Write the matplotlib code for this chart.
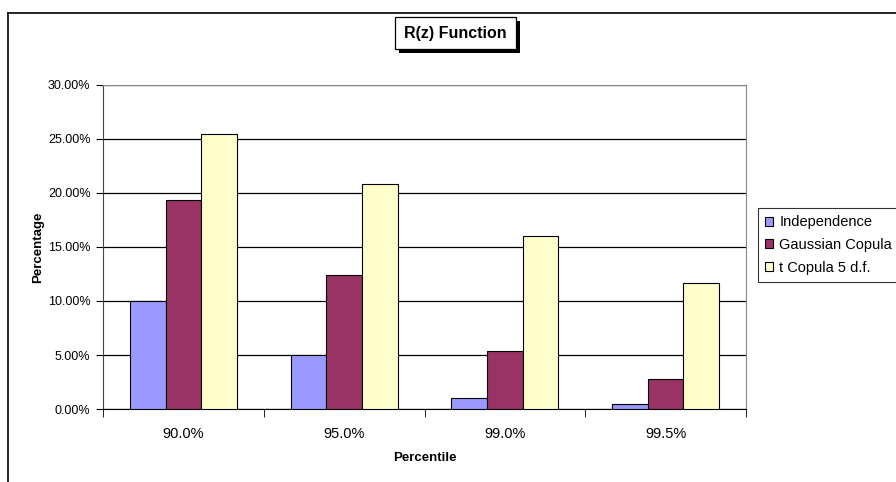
import numpy as np
import matplotlib.pyplot as plt
import matplotlib.patheffects as pe
from matplotlib.lines import Line2D
from matplotlib.patches import Rectangle
from matplotlib.ticker import FuncFormatter, FixedLocator

plt.rcParams['font.family'] = ['Liberation Sans', 'DejaVu Sans']

percentiles = ["90.0%", "95.0%", "99.0%", "99.5%"]
independence = [10.0, 5.0, 1.0, 0.45]
gaussian = [19.35, 12.45, 5.35, 2.8]
t_copula = [25.5, 20.8, 16.0, 11.7]

series_names = ["Independence", "Gaussian Copula", "t Copula 5 d.f."]
series_colors = ["#9999FF", "#993366", "#FFFFCC"]

W, H = 896, 482
fig = plt.figure(figsize=(W / 100, H / 100), dpi=100)

# outer chart frame (cut by the image edges on the right and bottom)
fig.add_artist(Line2D([7.5 / W, 7.5 / W], [0, 1 - 12.5 / H], color="black", lw=1.2))
fig.add_artist(Line2D([7.5 / W, 1], [1 - 12.5 / H, 1 - 12.5 / H], color="black", lw=1.2))

ax = fig.add_axes([103 / W, 1 - 409 / H, (746 - 103) / W, (409 - 85) / H])

x = np.arange(len(percentiles))
w = 1 / 4.5
for i, (vals, name, col) in enumerate(zip([independence, gaussian, t_copula], series_names, series_colors)):
    ax.bar(x + (i - 1) * w, vals, width=w, color=col, edgecolor="black", linewidth=0.8,
           label=name, zorder=3)

ax.set_xlim(-0.5, len(percentiles) - 0.5)
ax.set_ylim(0, 30)
ax.yaxis.set_major_locator(FixedLocator(np.arange(0, 30.1, 5)))
ax.yaxis.set_major_formatter(FuncFormatter(lambda v, p: f"{v:.2f}%"))
ax.grid(axis="y", color="black", linewidth=0.9, zorder=0)

ax.set_xticks(x)
ax.set_xticklabels(percentiles)
ax.xaxis.set_minor_locator(FixedLocator(np.arange(-0.5, len(percentiles), 1)))
ax.tick_params(axis="x", which="major", length=0, pad=13, labelsize=10.5)
ax.tick_params(axis="x", which="minor", length=6, direction="out", color="black")
ax.tick_params(axis="y", length=5, direction="out", pad=4, labelsize=9)

for s in ["top", "right"]:
    ax.spines[s].set_color("#888888")
ax.spines["left"].set_color("#444444")
ax.spines["bottom"].set_color("black")

fig.text(38 / W, 1 - 247 / H, "Percentage", rotation=90, ha="center", va="center",
         fontsize=9.5, fontweight="bold")
fig.text(425 / W, 1 - 458 / H, "Percentile", ha="center", va="center",
         fontsize=9.5, fontweight="bold")

# title box with solid drop shadow
box = Rectangle((395 / W, 1 - 49 / H), (516 - 395) / W, (49 - 17) / H,
                transform=fig.transFigure, facecolor="white", edgecolor="black", linewidth=0.9)
box.set_path_effects([pe.SimplePatchShadow(offset=(3, -3), shadow_rgbFace="black", alpha=1.0),
                      pe.Normal()])
fig.add_artist(box)
fig.text(455.5 / W, 1 - 33.5 / H, "R(z) Function", ha="center", va="center",
         fontsize=11.5, fontweight="bold")

leg = fig.legend(loc="upper left", bbox_to_anchor=(758 / W, 1 - 208 / H), fontsize=10.5,
                 frameon=True, fancybox=False, edgecolor="black", handlelength=0.55,
                 handleheight=0.55, handletextpad=0.4, borderpad=0.5, labelspacing=0.6,
                 borderaxespad=0)
leg.get_frame().set_linewidth(0.8)

fig.savefig("out.png", dpi=100)
